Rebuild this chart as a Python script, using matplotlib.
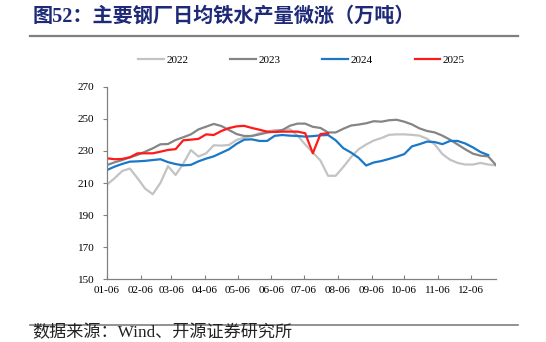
import matplotlib
matplotlib.use('Agg')
import matplotlib.pyplot as plt
import matplotlib.dates as mdates
import pandas as pd

# 周度数据（万吨），按 01-06 起每 7 天一个点
v2022 = [209, 213, 217.5, 219, 213, 206.5, 203, 210, 220.5, 215, 222, 230.5, 226.5, 228.5,
         233.5, 233.3, 233.7, 236.8, 238.3, 239.3, 241, 242, 243, 243, 243.5, 239.5, 234,
         229, 224, 214.5, 214.5, 220, 226, 231, 234, 236.5, 238, 240, 240.3, 240.3, 240,
         239.5, 237.5, 234, 228, 224.5, 222.5, 221.5, 221.5, 222.5, 221.5, 221]
v2023 = [221.2, 222.9, 224.3, 226, 227.5, 229.5, 231.6, 234.1, 234.3, 236.8, 238.5, 240.3,
         243.4, 245.1, 246.8, 245.5, 243, 240.5, 239.3, 239.3, 240.3, 241.4, 242, 243, 245.7,
         247, 247, 245, 244.3, 241.5, 241.5, 243.8, 245.8, 246.4, 247.2, 248.5, 248.2, 249.1,
         249.4, 248.2, 246.5, 244, 242.4, 241.5, 239.5, 237, 234, 231, 228.3, 227, 226.6, 221.3]
v2024 = [218.1, 220.2, 221.9, 223.3, 223.5, 223.8, 224.3, 224.8, 223, 221.8, 221, 221.3, 223.5,
         225.2, 226.6, 228.8, 231, 234.4, 237, 237.2, 236.2, 236.2, 239.4, 239.9, 239.5, 239.3,
         238.9, 239.2, 239.7, 239.9, 236.6, 231.7, 229, 225.7, 220.9, 222.8, 223.7, 225, 226.4,
         228, 232.8, 234.2, 235.8, 235.5, 234.2, 236.2, 236.2, 234.6, 232.2, 229.3, 227.4]
v2025 = [225.4, 224.8, 225, 226, 228.5, 228.5, 228.5, 229.5, 230.6, 231.1, 236.6, 237, 237.5,
         240.3, 239.9, 242.4, 244.2, 245.3, 245.6, 244.3, 243.2, 242, 241.8, 242, 242, 242,
         241, 228.5, 240.5, 241]

series = [('2022', v2022, '#C3C3C3'),
          ('2023', v2023, '#858585'),
          ('2024', v2024, '#1A78C8'),
          ('2025', v2025, '#FF1A1A')]

plt.rcParams['font.family'] = ['Liberation Serif', 'Noto Sans CJK SC']

fig = plt.figure(figsize=(5.46, 3.42), dpi=100)
ax = fig.add_axes([0.196, 0.1833, 0.712, 0.5632])

for name, vals, color in series:
    dates = pd.date_range('2023-01-06', periods=len(vals), freq='7D')
    ax.plot(dates, vals, color=color, lw=1.6, label=name)

ax.set_ylim(150, 270)
ax.set_yticks(range(150, 271, 20))
ax.set_xlim(pd.Timestamp('2023-01-06'), pd.Timestamp('2023-12-29'))
ax.xaxis.set_major_locator(mdates.MonthLocator(bymonthday=6))
ax.xaxis.set_major_formatter(mdates.DateFormatter('%m-%d'))

for side in ['top', 'right']:
    ax.spines[side].set_visible(False)
for side in ['left', 'bottom']:
    ax.spines[side].set_color('#808080')
    ax.spines[side].set_linewidth(0.9)
ax.tick_params(axis='x', direction='in', length=3, color='#808080', labelsize=8, pad=5)
ax.tick_params(axis='y', direction='out', length=3, color='#808080', labelsize=8, pad=6)

ax.legend(loc='center', bbox_to_anchor=(0.5, 1.139), ncol=4, frameon=False, fontsize=8,
          handlelength=2.3, handletextpad=0.2, columnspacing=3.8)

# 标题与底部来源
fig.text(0.06, 0.951, '图52：主要钢厂日均铁水产量微涨（万吨）', fontsize=14.5,
         fontweight='bold', color='#1E2A78', va='center', ha='left')
fig.add_artist(plt.Line2D([0.055, 0.949], [0.895, 0.895], color='#7F7F7F', lw=1.6))
fig.add_artist(plt.Line2D([0.055, 0.949], [0.0497, 0.0497], color='#7F7F7F', lw=1.2))
fig.text(0.06, 0.026, '数据来源：Wind、开源证券研究所', fontsize=12.3, color='#222222',
         va='center', ha='left')

fig.savefig('out.png', dpi=100)
